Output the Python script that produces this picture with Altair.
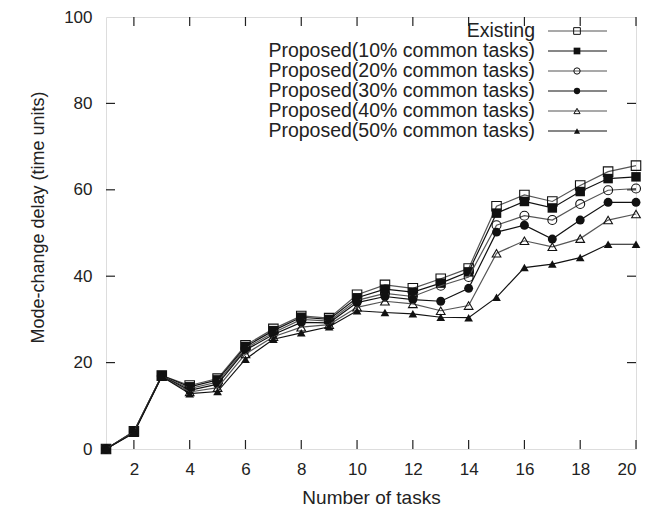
import altair as alt
import pandas as pd

tasks = list(range(1, 21))
series_names = [
    "Existing",
    "Proposed(10% common tasks)",
    "Proposed(20% common tasks)",
    "Proposed(30% common tasks)",
    "Proposed(40% common tasks)",
    "Proposed(50% common tasks)",
]
existing = [0, 4.1, 17.0, 14.7, 16.3, 24.0, 27.8, 30.8, 30.3, 35.7, 38.0, 37.2, 39.4, 41.8, 56.2, 58.8, 57.3, 61.0, 64.2, 65.6]
p10 = [0, 4.0, 17.0, 14.4, 16.0, 23.7, 27.4, 30.5, 30.0, 35.0, 37.0, 36.3, 38.4, 41.0, 54.6, 57.3, 55.8, 59.6, 62.6, 63.0]
p20 = [0, 4.0, 16.9, 14.0, 15.5, 23.3, 26.9, 30.0, 29.6, 34.4, 36.0, 35.3, 37.8, 39.8, 51.8, 54.0, 53.0, 56.7, 59.9, 60.3]
p30 = [0, 3.9, 16.9, 13.6, 15.0, 22.9, 26.5, 29.3, 29.2, 33.9, 35.3, 34.6, 34.2, 37.2, 50.2, 51.8, 48.6, 53.0, 57.1, 57.1]
p40 = [0, 3.8, 16.8, 13.2, 14.2, 22.0, 26.0, 28.2, 28.8, 32.8, 34.2, 33.6, 32.0, 33.2, 45.3, 48.2, 46.8, 48.7, 53.0, 54.4]
p50 = [0, 3.7, 16.8, 12.8, 13.3, 20.8, 25.4, 26.9, 28.3, 32.0, 31.6, 31.3, 30.5, 30.4, 35.1, 42.0, 42.8, 44.3, 47.4, 47.4]
x_ticks = list(range(2, 21, 2))
y_ticks = [0, 20, 40, 60, 80, 100]
right_ticks = [20, 40, 60, 80]

all_values = [existing, p10, p20, p30, p40, p50]
shapes = ["square", "square", "circle", "circle", "triangle-up", "triangle-up"]
filled = [False, True, False, True, False, True]
line_colors = ["#555555", "#111111", "#555555", "#111111", "#555555", "#111111"]
sizes = [90, 90, 80, 80, 75, 75]
legend_sizes = [45, 45, 40, 40, 38, 38]

rows = []
for name, vals in zip(series_names, all_values):
    for t, v in zip(tasks, vals):
        rows.append({"series": name, "tasks": t, "delay": v})
df = pd.DataFrame(rows)

W, H = 530, 432
FONT = "Liberation Sans"

xscale = alt.Scale(domain=[1, 20], nice=False)
yscale = alt.Scale(domain=[0, 100], nice=False)

base = alt.Chart(df)

x_axis = alt.Axis(values=x_ticks, ticks=False, domain=False, grid=False,
                  labelFontSize=17, labelPadding=12, title="Number of tasks",
                  titleFontSize=19, titleFontWeight="normal", titlePadding=11,
                  labelColor="#222", titleColor="#222", labelFont=FONT, titleFont=FONT)
y_axis = alt.Axis(values=y_ticks, ticks=False, domain=False, grid=False,
                  labelFontSize=17, labelPadding=14, title="Mode-change delay (time units)",
                  titleFontSize=18, titleFontWeight="normal",
                  titleX=-68, titleY=200, titleAngle=270, titleAlign="center",
                  titleBaseline="middle",
                  labelColor="#222", titleColor="#222", labelFont=FONT, titleFont=FONT)

layers = []
# tick marks (inside)
xt = pd.DataFrame({"t": x_ticks})
yt = pd.DataFrame({"v": right_ticks})
layers.append(alt.Chart(xt).mark_rule(color="#222", strokeWidth=1.2).encode(
    x=alt.X("t:Q", scale=xscale, axis=x_axis), y=alt.value(H), y2=alt.value(H - 9)))
layers.append(alt.Chart(xt).mark_rule(color="#222", strokeWidth=1.2).encode(
    x=alt.X("t:Q", scale=xscale), y=alt.value(0), y2=alt.value(9)))
layers.append(alt.Chart(yt).mark_rule(color="#222", strokeWidth=1.2).encode(
    y=alt.Y("v:Q", scale=yscale, axis=y_axis), x=alt.value(0), x2=alt.value(9)))
layers.append(alt.Chart(yt).mark_rule(color="#222", strokeWidth=1.2).encode(
    y=alt.Y("v:Q", scale=yscale), x=alt.value(W), x2=alt.value(W - 9)))

for i, name in enumerate(series_names):
    sub = base.transform_filter(alt.datum.series == name)
    layers.append(sub.mark_line(color=line_colors[i], strokeWidth=1.2).encode(
        x=alt.X("tasks:Q", scale=xscale), y=alt.Y("delay:Q", scale=yscale)))
    layers.append(sub.mark_point(shape=shapes[i], filled=filled[i], size=sizes[i],
                                 color="#111111", strokeWidth=1.1, opacity=1).encode(
        x=alt.X("tasks:Q", scale=xscale), y=alt.Y("delay:Q", scale=yscale)))

# manual legend (labels left of samples, as in the reference)
leg_df = pd.DataFrame({"series": series_names})
for i, name in enumerate(series_names):
    ly = 14 + 20 * i
    one = alt.Chart(leg_df).transform_filter(alt.datum.series == name)
    layers.append(one.mark_text(align="right", baseline="middle", fontSize=19.5, font=FONT,
                                color="#222").encode(
        text="series:N", x=alt.value(429), y=alt.value(ly)))
    layers.append(one.mark_rule(color=line_colors[i], strokeWidth=1.2).encode(
        x=alt.value(442), x2=alt.value(501), y=alt.value(ly)))
    layers.append(one.mark_point(shape=shapes[i], filled=filled[i], size=legend_sizes[i],
                                 color="#111111", strokeWidth=1.0, opacity=1).encode(
        x=alt.value(471), y=alt.value(ly)))

chart = alt.layer(*layers).properties(
    width=W, height=H,
    autosize=alt.AutoSizeParams(type="none"),
    padding={"left": 98, "top": 9, "right": 10, "bottom": 57},
).configure_view(stroke="#222", strokeWidth=1.5).configure(background="white")

chart.save("out.html", embed_options={"renderer": "svg", "actions": False})
